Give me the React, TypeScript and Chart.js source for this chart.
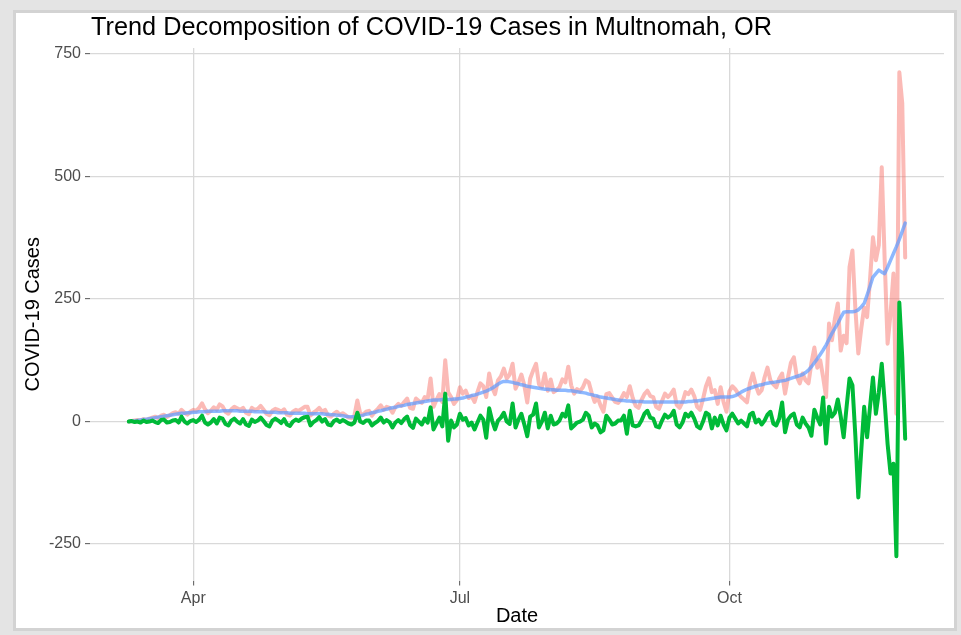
import React, { useEffect, useRef } from 'react';
import { Chart, registerables } from 'chart.js';

Chart.register(...registerables);

const TITLE = 'Trend Decomposition of COVID-19 Cases in Multnomah, OR';
const X_TITLE = 'Date';
const Y_TITLE = 'COVID-19 Cases';
const START_DATE = '2020-03-10';
const X_TICK_DATES = ['2020-04-01', '2020-07-01', '2020-10-01'];
const X_TICK_LABELS = ['Apr', 'Jul', 'Oct'];
const Y_TICKS = [-250, 0, 250, 500, 750];

// daily reported cases (one row per 7 days, starting 2020-03-10)
const rawCases = [
  0, 1, 2, 3, 2, 5, 3,
  6, 8, 10, 7, 12, 14, 9,
  13, 17, 19, 16, 24, 18, 14,
  20, 24, 22, 28, 37, 25, 17,
  22, 29, 24, 35, 31, 20, 16,
  25, 30, 27, 24, 28, 18, 15,
  28, 24, 26, 32, 24, 16, 13,
  22, 26, 24, 20, 25, 14, 12,
  20, 24, 22, 26, 30, 30, 12,
  18, 22, 28, 20, 24, 12, 10,
  16, 20, 14, 17, 13, 8, 7,
  12, 43, 16, 14, 20, 22, 12,
  20, 26, 33, 24, 30, 28, 18,
  30, 36, 32, 40, 47, 28, 26,
  47, 42, 38, 50, 46, 88, 30,
  44, 56, 40, 125, 60, 50, 36,
  44, 70, 57, 63, 48, 52, 40,
  60, 78, 72, 50, 98, 70, 56,
  84, 92, 108, 88, 96, 118, 67,
  80, 96, 74, 39, 88, 104, 118,
  76, 70, 98, 63, 86, 60, 64,
  70, 86, 80, 112, 74, 57, 66,
  62, 70, 84, 80, 58, 40, 50,
  33, 20, 56, 58, 49, 40, 38,
  46, 58, 50, 72, 48, 32, 28,
  44, 56, 63, 52, 50, 30, 26,
  42, 57, 50, 56, 65, 34, 28,
  40, 60, 56, 65, 52, 30, 24,
  46, 72, 88, 60, 64, 36, 70,
  40, 20, 62, 72, 66, 57, 50,
  45, 39, 78, 98, 74, 57, 64,
  90, 110, 84, 76, 70, 88, 98,
  57, 90, 120, 131, 92, 78, 98,
  84, 78, 120, 151, 110, 125, 90,
  50, 200, 166, 210, 241, 145, 175,
  160, 315, 349, 230, 139, 190, 233,
  213, 290, 376, 329, 360, 519, 330,
  159, 220, 302, 16, 713, 650, 335,
];

const trend = [
  0, 1, 1, 2, 3, 4, 5,
  6, 7, 8, 9, 10, 11, 12,
  13, 14, 15, 16, 17, 17, 18,
  18, 19, 19, 20, 20, 20, 21,
  21, 21, 21, 21, 22, 22, 22,
  22, 22, 22, 21, 21, 21, 21,
  21, 20, 20, 20, 20, 19, 19,
  19, 19, 18, 18, 18, 18, 17,
  17, 17, 17, 17, 17, 16, 16,
  16, 16, 16, 16, 15, 15, 14,
  14, 13, 13, 12, 11, 10, 10,
  10, 11, 12, 13, 15, 16, 18,
  19, 21, 22, 24, 25, 27, 28,
  29, 31, 32, 33, 35, 36, 37,
  38, 39, 40, 41, 42, 43, 44,
  44, 44, 45, 45, 45, 45, 46,
  46, 47, 48, 50, 51, 53, 54,
  56, 58, 60, 62, 65, 68, 72,
  76, 80, 82, 82, 81, 80, 78,
  77, 75, 74, 72, 71, 70, 69,
  68, 67, 66, 66, 65, 65, 64,
  64, 64, 64, 63, 63, 62, 61,
  60, 59, 58, 56, 55, 53, 52,
  50, 49, 48, 47, 46, 45, 44,
  43, 43, 42, 42, 41, 41, 41,
  41, 40, 40, 40, 40, 40, 40,
  40, 40, 40, 40, 40, 40, 40,
  40, 40, 41, 41, 42, 42, 43,
  44, 45, 46, 47, 48, 49, 50,
  50, 50, 50, 51, 53, 56, 60,
  63, 66, 68, 70, 72, 74, 75,
  77, 78, 79, 80, 81, 82, 83,
  84, 86, 88, 90, 92, 94, 96,
  100, 105, 112, 120, 128, 137, 146,
  156, 168, 180, 190, 200, 212, 223,
  224, 224, 224, 225, 228, 234, 241,
  258, 276, 295, 302, 309, 305, 302,
  315, 329, 343, 357, 372, 388, 405,
];

const remainder = [
  0, 1, -1, 0, -2, 2, -1,
  0, 2, -1, -3, 3, 4, -2,
  -1, 2, 3, -2, 10, 0, -4,
  1, 3, -1, 4, 12, -2, -6,
  -2, 5, -4, 8, 6, -5, -8,
  2, 6, 0, -4, 5, -6, -9,
  4, -1, 2, 8, 1, -7, -10,
  2, 6, 2, -3, 5, -6, -9,
  0, 4, 1, 6, 9, 10, -8,
  -1, 3, 9, 0, 5, -6, -8,
  1, 4, -1, 3, 0, -4, -6,
  -2, 18, 0, -3, 2, 2, -8,
  -3, 1, 8, -2, 3, -1, -12,
  -2, 3, -3, 5, 10, -7, -13,
  6, 0, -6, 6, -2, 29, -16,
  -4, 8, -10, 57, -39, 2, -12,
  -6, 16, 4, 7, -8, -2, -16,
  -2, 12, 4, -33, 27, 2, -16,
  2, 8, 18, 0, -5, 37, -12,
  4, 16, -6, -30, 10, 14, 37,
  -12, 0, 18, -14, 12, -6, -4,
  2, 16, 10, 33, -14, -8, -2,
  0, 4, 18, 12, -12, -4, -8,
  -22, -18, 12, 4, -6, -4, 2,
  2, 12, -25, 22, -8, -10, -8,
  2, 16, 22, 8, 6, -10, -12,
  2, 14, 8, 12, 22, -6, -12,
  -2, 16, 10, 18, 6, -10, -14,
  0, 18, 14, -14, 8, -8, 12,
  -6, -18, 8, 16, 6, -4, 2,
  -4, -10, 14, 18, -2, 4, -6,
  2, 14, 20, -4, -8, 6, 39,
  -22, 4, 12, 16, -6, -12, 8,
  -4, -12, -29, 24, 8, -6, 49,
  -45, 30, 10, 18, 45, 10, -32,
  30, 88, 74, -30, -155, -60, 30,
  -32, 30, 90, 16, 60, 118, 40,
  -46, -106, -86, -275, 243, 131, -35,
];

const DAY_MS = 86400000;
const YEAR_START = Date.parse('2020-01-01');
const toDay = (s: string) => Math.round((Date.parse(s) - YEAR_START) / DAY_MS);

const FONT = '"Liberation Sans", Arial, Helvetica, sans-serif';

export default function App() {
  const ref = useRef<HTMLCanvasElement | null>(null);

  useEffect(() => {
    const canvas = ref.current;
    if (!canvas) return;
    const start = toDay(START_DATE);
    const xs = rawCases.map((_, i) => start + i);
    const toPts = (arr: number[]) => arr.map((v, i) => ({ x: xs[i], y: v }));
    const xMinD = xs[0];
    const xMaxD = xs[xs.length - 1];
    const xPad = (xMaxD - xMinD) * 0.05;
    const all = [...rawCases, ...trend, ...remainder];
    const yLo = Math.min(...all);
    const yHi = Math.max(...all);
    const yPad = (yHi - yLo) * 0.05;
    const tickDays = X_TICK_DATES.map(toDay);

    const titlePlugin = {
      id: 'ggTitle',
      afterDraw(chart: any) {
        const { ctx, chartArea } = chart;
        ctx.save();
        ctx.font = `25.3px ${FONT}`;
        ctx.fillStyle = '#000000';
        ctx.textAlign = 'left';
        ctx.textBaseline = 'middle';
        ctx.fillText(TITLE, chartArea.left + 1, 28);
        ctx.restore();
      },
    };

    const chart = new Chart(canvas, {
      type: 'line',
      data: {
        datasets: [
          {
            label: 'remainder',
            data: toPts(remainder),
            borderColor: '#00BA38',
            borderWidth: 4,
            pointRadius: 0,
            fill: false,
          },
          {
            label: 'trend',
            data: toPts(trend),
            borderColor: 'rgba(97,156,255,0.72)',
            borderWidth: 3.5,
            pointRadius: 0,
            fill: false,
          },
          {
            label: 'cases',
            data: toPts(rawCases),
            borderColor: 'rgba(248,118,109,0.5)',
            borderWidth: 4,
            pointRadius: 0,
            fill: false,
          },
        ],
      },
      options: {
        animation: false,
        responsive: false,
        devicePixelRatio: 1,
        layout: { padding: { top: 48, right: 17, bottom: 0, left: 0 } },
        plugins: {
          legend: { display: false },
          tooltip: { enabled: false },
          title: { display: false },
        },
        elements: { line: { tension: 0, borderJoinStyle: 'round', borderCapStyle: 'round' }, point: { radius: 0 } },
        scales: {
          x: {
            type: 'linear',
            min: xMinD - xPad,
            max: xMaxD + xPad,
            afterBuildTicks: (s: any) => {
              s.ticks = tickDays.map((v) => ({ value: v }));
            },
            afterFit: (s: any) => {
              s.height = 54.5;
            },
            ticks: {
              autoSkip: false,
              maxRotation: 0,
              padding: 3,
              color: '#4d4d4d',
              font: { family: FONT, size: 16 },
              callback: (_v: any, i: number) => X_TICK_LABELS[i],
            },
            grid: {
              color: '#d9d9d9',
              lineWidth: 1.3,
              drawTicks: true,
              tickLength: 5,
              tickColor: '#555555',
              tickWidth: 1,
            },
            border: { display: false },
            title: {
              display: true,
              text: X_TITLE,
              color: '#000000',
              font: { family: FONT, size: 20 },
              padding: { top: 0, bottom: 7 },
            },
          },
          y: {
            type: 'linear',
            min: yLo - yPad,
            max: yHi + yPad,
            afterBuildTicks: (s: any) => {
              s.ticks = Y_TICKS.map((v) => ({ value: v }));
            },
            afterFit: (s: any) => {
              s.width = 90;
            },
            ticks: {
              autoSkip: false,
              padding: 4,
              color: '#4d4d4d',
              font: { family: FONT, size: 16 },
              callback: (v: any) => String(v),
            },
            grid: {
              color: '#d9d9d9',
              lineWidth: 1.3,
              drawTicks: true,
              tickLength: 5,
              tickColor: '#555555',
              tickWidth: 1,
            },
            border: { display: false },
            title: {
              display: true,
              text: Y_TITLE,
              color: '#000000',
              font: { family: FONT, size: 20 },
              padding: { top: 21, bottom: 0 },
            },
          },
        },
      },
      plugins: [titlePlugin],
    } as any);

    return () => chart.destroy();
  }, []);

  return (
    <div style={{ position: 'fixed', left: 0, top: 0, width: 961, height: 635, background: '#e4e4e4', overflow: 'hidden' }}>
      <div
        style={{
          position: 'absolute',
          left: 16,
          top: 13,
          width: 938,
          height: 615,
          background: '#ffffff',
          boxShadow: '0 0 0 3px #d3d3d3',
        }}
      />
      <canvas ref={ref} width={961} height={635} style={{ position: 'absolute', left: 0, top: 0, width: 961, height: 635 }} />
    </div>
  );
}
